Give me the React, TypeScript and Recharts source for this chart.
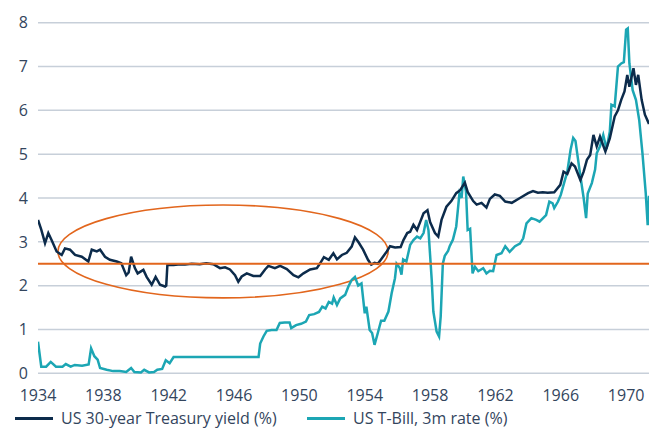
import React from "react";
import {
  LineChart,
  Line,
  XAxis,
  YAxis,
  CartesianGrid,
  ReferenceLine,
  ReferenceArea,
  Legend,
} from "recharts";

// [year, value]
const treasury30y: [number, number][] = [
  [1934.0, 3.5], [1934.2, 3.28], [1934.43, 2.97], [1934.63, 3.2], [1934.83, 3.04],
  [1935.14, 2.78], [1935.45, 2.7], [1935.65, 2.85], [1935.96, 2.82], [1936.27, 2.7],
  [1936.68, 2.66], [1937.08, 2.55], [1937.29, 2.82], [1937.6, 2.78], [1937.8, 2.82],
  [1938.1, 2.66], [1938.4, 2.59], [1938.82, 2.55], [1939.1, 2.51], [1939.4, 2.24],
  [1939.55, 2.3], [1939.7, 2.66], [1939.93, 2.4], [1940.1, 2.28], [1940.45, 2.36],
  [1940.65, 2.2], [1940.96, 2.02], [1941.2, 2.2], [1941.47, 2.02], [1941.78, 1.98],
  [1941.85, 2.0], [1941.92, 2.47], [1942.3, 2.47], [1942.7, 2.49], [1943.0, 2.48],
  [1943.4, 2.5], [1943.9, 2.49], [1944.3, 2.51], [1944.73, 2.49], [1945.14, 2.4],
  [1945.45, 2.42], [1945.75, 2.37], [1946.06, 2.24], [1946.26, 2.09], [1946.47, 2.21],
  [1946.78, 2.28], [1947.18, 2.22], [1947.6, 2.22], [1947.9, 2.37], [1948.1, 2.45],
  [1948.5, 2.4], [1948.82, 2.45], [1949.23, 2.38], [1949.64, 2.24], [1949.94, 2.19],
  [1950.25, 2.28], [1950.66, 2.37], [1951.07, 2.4], [1951.27, 2.51], [1951.5, 2.65],
  [1951.8, 2.59], [1952.08, 2.74], [1952.3, 2.6], [1952.6, 2.7], [1952.9, 2.75],
  [1953.2, 2.89], [1953.4, 3.1], [1953.6, 3.0], [1953.9, 2.82], [1954.2, 2.59],
  [1954.4, 2.48], [1954.6, 2.52], [1954.8, 2.5], [1955.04, 2.62], [1955.35, 2.78],
  [1955.55, 2.9], [1955.86, 2.87], [1956.2, 2.88], [1956.37, 3.04], [1956.6, 3.2],
  [1956.78, 3.23], [1956.98, 3.39], [1957.2, 3.27], [1957.39, 3.45], [1957.6, 3.65],
  [1957.84, 3.72], [1958.0, 3.45], [1958.3, 3.2], [1958.5, 3.12], [1958.7, 3.5],
  [1959.0, 3.8], [1959.3, 3.93], [1959.6, 4.11], [1959.84, 4.18], [1960.13, 4.35],
  [1960.3, 4.14], [1960.64, 3.93], [1960.85, 3.85], [1961.15, 3.89], [1961.45, 3.78],
  [1961.66, 3.98], [1961.96, 4.08], [1962.27, 4.05], [1962.6, 3.92], [1963.0, 3.89],
  [1963.5, 4.0], [1964.0, 4.11], [1964.3, 4.16], [1964.6, 4.12], [1964.9, 4.13],
  [1965.2, 4.12], [1965.6, 4.13], [1965.97, 4.3], [1966.17, 4.6], [1966.4, 4.55],
  [1966.66, 4.79], [1966.87, 4.72], [1967.2, 4.41], [1967.4, 4.6], [1967.6, 4.87],
  [1967.8, 4.98], [1968.0, 5.44], [1968.2, 5.18], [1968.4, 5.4], [1968.73, 5.06],
  [1969.0, 5.36], [1969.3, 5.86], [1969.5, 6.0], [1969.7, 6.24], [1969.9, 6.43],
  [1970.07, 6.81], [1970.2, 6.54], [1970.45, 6.96], [1970.6, 6.58], [1970.74, 6.81],
  [1970.95, 6.24], [1971.15, 5.9], [1971.4, 5.69],
];

const tbill3m: [number, number][] = [
  [1934.0, 0.72], [1934.2, 0.15], [1934.5, 0.15], [1934.78, 0.26], [1935.1, 0.15],
  [1935.5, 0.15], [1935.7, 0.21], [1936.0, 0.15], [1936.25, 0.19], [1936.7, 0.17],
  [1937.1, 0.2], [1937.25, 0.57], [1937.45, 0.39], [1937.65, 0.31], [1937.8, 0.12],
  [1938.2, 0.08], [1938.6, 0.05], [1939.0, 0.05], [1939.4, 0.03], [1939.7, 0.12],
  [1939.9, 0.03], [1940.3, 0.02], [1940.5, 0.08], [1940.8, 0.02], [1941.1, 0.03],
  [1941.3, 0.08], [1941.6, 0.1], [1941.82, 0.3], [1942.06, 0.23], [1942.3, 0.37],
  [1947.5, 0.37], [1947.6, 0.68], [1947.8, 0.84], [1948.0, 0.97], [1948.3, 0.99],
  [1948.6, 0.99], [1948.8, 1.15], [1949.1, 1.16], [1949.4, 1.16], [1949.5, 1.03],
  [1949.8, 1.1], [1950.1, 1.13], [1950.4, 1.18], [1950.6, 1.33], [1950.9, 1.35],
  [1951.2, 1.4], [1951.4, 1.52], [1951.6, 1.48], [1951.8, 1.63], [1952.0, 1.59],
  [1952.1, 1.73], [1952.3, 1.56], [1952.5, 1.71], [1952.8, 1.79], [1953.0, 1.98],
  [1953.2, 2.13], [1953.4, 2.2], [1953.6, 2.0], [1953.8, 2.05], [1954.0, 1.37],
  [1954.1, 1.52], [1954.3, 0.99], [1954.45, 0.92], [1954.6, 0.65], [1954.8, 0.92],
  [1955.0, 1.2], [1955.2, 1.2], [1955.45, 1.41], [1955.65, 1.83], [1955.85, 2.17],
  [1955.95, 2.5], [1956.15, 2.4], [1956.25, 2.25], [1956.35, 2.6], [1956.55, 2.55],
  [1956.78, 2.93], [1956.98, 3.04], [1957.2, 3.12], [1957.4, 3.08], [1957.6, 3.2],
  [1957.76, 3.5], [1957.9, 3.27], [1958.1, 2.13], [1958.2, 1.41], [1958.4, 0.95],
  [1958.55, 0.84], [1958.65, 1.3], [1958.78, 2.5], [1958.9, 2.68], [1959.1, 2.79],
  [1959.2, 2.9], [1959.4, 3.05], [1959.6, 3.35], [1959.8, 4.11], [1959.93, 4.0],
  [1960.03, 4.49], [1960.2, 4.14], [1960.3, 3.27], [1960.45, 3.3], [1960.6, 2.28],
  [1960.75, 2.43], [1960.95, 2.33], [1961.25, 2.4], [1961.45, 2.28], [1961.66, 2.34],
  [1961.86, 2.33], [1962.07, 2.7], [1962.37, 2.74], [1962.6, 2.9], [1962.87, 2.77],
  [1963.2, 2.9], [1963.5, 2.96], [1963.7, 3.08], [1963.9, 3.42], [1964.2, 3.54],
  [1964.5, 3.5], [1964.7, 3.46], [1965.1, 3.61], [1965.3, 3.92], [1965.5, 3.88],
  [1965.6, 3.77], [1965.83, 3.92], [1966.0, 4.07], [1966.2, 4.34], [1966.4, 4.6],
  [1966.6, 5.1], [1966.76, 5.37], [1966.9, 5.3], [1967.05, 4.9], [1967.2, 4.5],
  [1967.4, 4.0], [1967.55, 3.54], [1967.65, 4.1], [1967.9, 4.34], [1968.1, 4.65],
  [1968.2, 5.02], [1968.4, 5.18], [1968.6, 5.44], [1968.8, 5.12], [1969.0, 5.51],
  [1969.1, 6.13], [1969.3, 6.09], [1969.5, 7.0], [1969.7, 7.07], [1969.86, 7.1],
  [1970.0, 7.84], [1970.1, 7.87], [1970.2, 7.07], [1970.4, 6.46], [1970.6, 6.24],
  [1970.8, 5.78], [1971.0, 5.02], [1971.2, 4.11], [1971.32, 3.38], [1971.4, 4.05],
];

const xTicks = [1934, 1938, 1942, 1946, 1950, 1954, 1958, 1962, 1966, 1970];
const yTicks = [0, 1, 2, 3, 4, 5, 6, 7, 8];
const thresholdLevel = 2.5;
const highlightYears: [number, number] = [1935.22, 1955.43];
const highlightRange: [number, number] = [1.72, 3.84];

const seriesNames = ["US 30-year Treasury yield (%)", "US T-Bill, 3m rate (%)"];

const NAVY = "#0c2b4b";
const TEAL = "#1ca6b4";
const ORANGE = "#e2661d";
const TEXT = "#33455d";
const GRID = "#c7cfd9";
const FONT = "'Open Sans', sans-serif";

const treasuryData = treasury30y.map(([year, value]) => ({ year, value }));
const tbillData = tbill3m.map(([year, value]) => ({ year, value }));

const EllipseShape = (props: any) => {
  const { x, y, width, height } = props;
  return (
    <ellipse
      cx={x + width / 2}
      cy={y + height / 2}
      rx={Math.abs(width) / 2}
      ry={Math.abs(height) / 2}
      fill="none"
      stroke={ORANGE}
      strokeWidth={1.6}
    />
  );
};

const legendOffsets = [15, 307];

const LegendContent = (props: any) => {
  const payload = props.payload || [];
  return (
    <div style={{ position: "relative", width: 649, height: 22, fontFamily: FONT }}>
      {payload.map((entry: any, i: number) => (
        <div
          key={entry.value}
          style={{
            position: "absolute",
            left: legendOffsets[i] ?? 0,
            top: 0,
            height: 22,
            display: "flex",
            alignItems: "center",
            whiteSpace: "nowrap",
            lineHeight: "20px",
          }}
        >
          <span
            style={{
              display: "inline-block",
              width: 38,
              height: 3,
              background: entry.color,
              marginRight: 8,
            }}
          />
          <span style={{ color: TEXT, fontSize: 16 }}>{entry.value}</span>
        </div>
      ))}
    </div>
  );
};

export default function App() {
  return (
    <div style={{ position: "absolute", left: 0, top: 0, width: 649, height: 430, background: "#fff" }}>
      <LineChart
        width={649}
        height={430}
        margin={{ top: 22.7, right: 0, bottom: 26.7, left: 0 }}
      >
        <CartesianGrid vertical={false} stroke={GRID} strokeWidth={1.5} />
        <XAxis
          type="number"
          dataKey="year"
          domain={[1934, 1971.4]}
          ticks={xTicks}
          allowDataOverflow
          axisLine={false}
          tickLine={false}
          tickSize={0}
          tickMargin={16}
          height={30}
          tick={{ fill: TEXT, fontSize: 16, fontFamily: FONT }}
        />
        <YAxis
          type="number"
          domain={[0, 8]}
          ticks={yTicks}
          axisLine={false}
          tickLine={false}
          tickSize={0}
          tickMargin={10}
          width={38}
          tick={{ fill: TEXT, fontSize: 16, fontFamily: FONT }}
        />
        <Legend
          layout="horizontal"
          verticalAlign="middle"
          align="center"
          wrapperStyle={{ top: 407, left: 0, width: 649 }}
          content={<LegendContent />}
        />
        <Line
          data={tbillData}
          dataKey="value"
          name={seriesNames[1]}
          stroke={TEAL}
          strokeWidth={2.5}
          dot={false}
          type="linear"
          isAnimationActive={false}
          legendType="line"
        />
        <Line
          data={treasuryData}
          dataKey="value"
          name={seriesNames[0]}
          stroke={NAVY}
          strokeWidth={2.5}
          dot={false}
          type="linear"
          isAnimationActive={false}
          legendType="line"
        />
        <ReferenceLine y={thresholdLevel} stroke={ORANGE} strokeWidth={2} />
        <ReferenceArea
          x1={highlightYears[0]}
          x2={highlightYears[1]}
          y1={highlightRange[0]}
          y2={highlightRange[1]}
          shape={<EllipseShape />}
        />
      </LineChart>
    </div>
  );
}
